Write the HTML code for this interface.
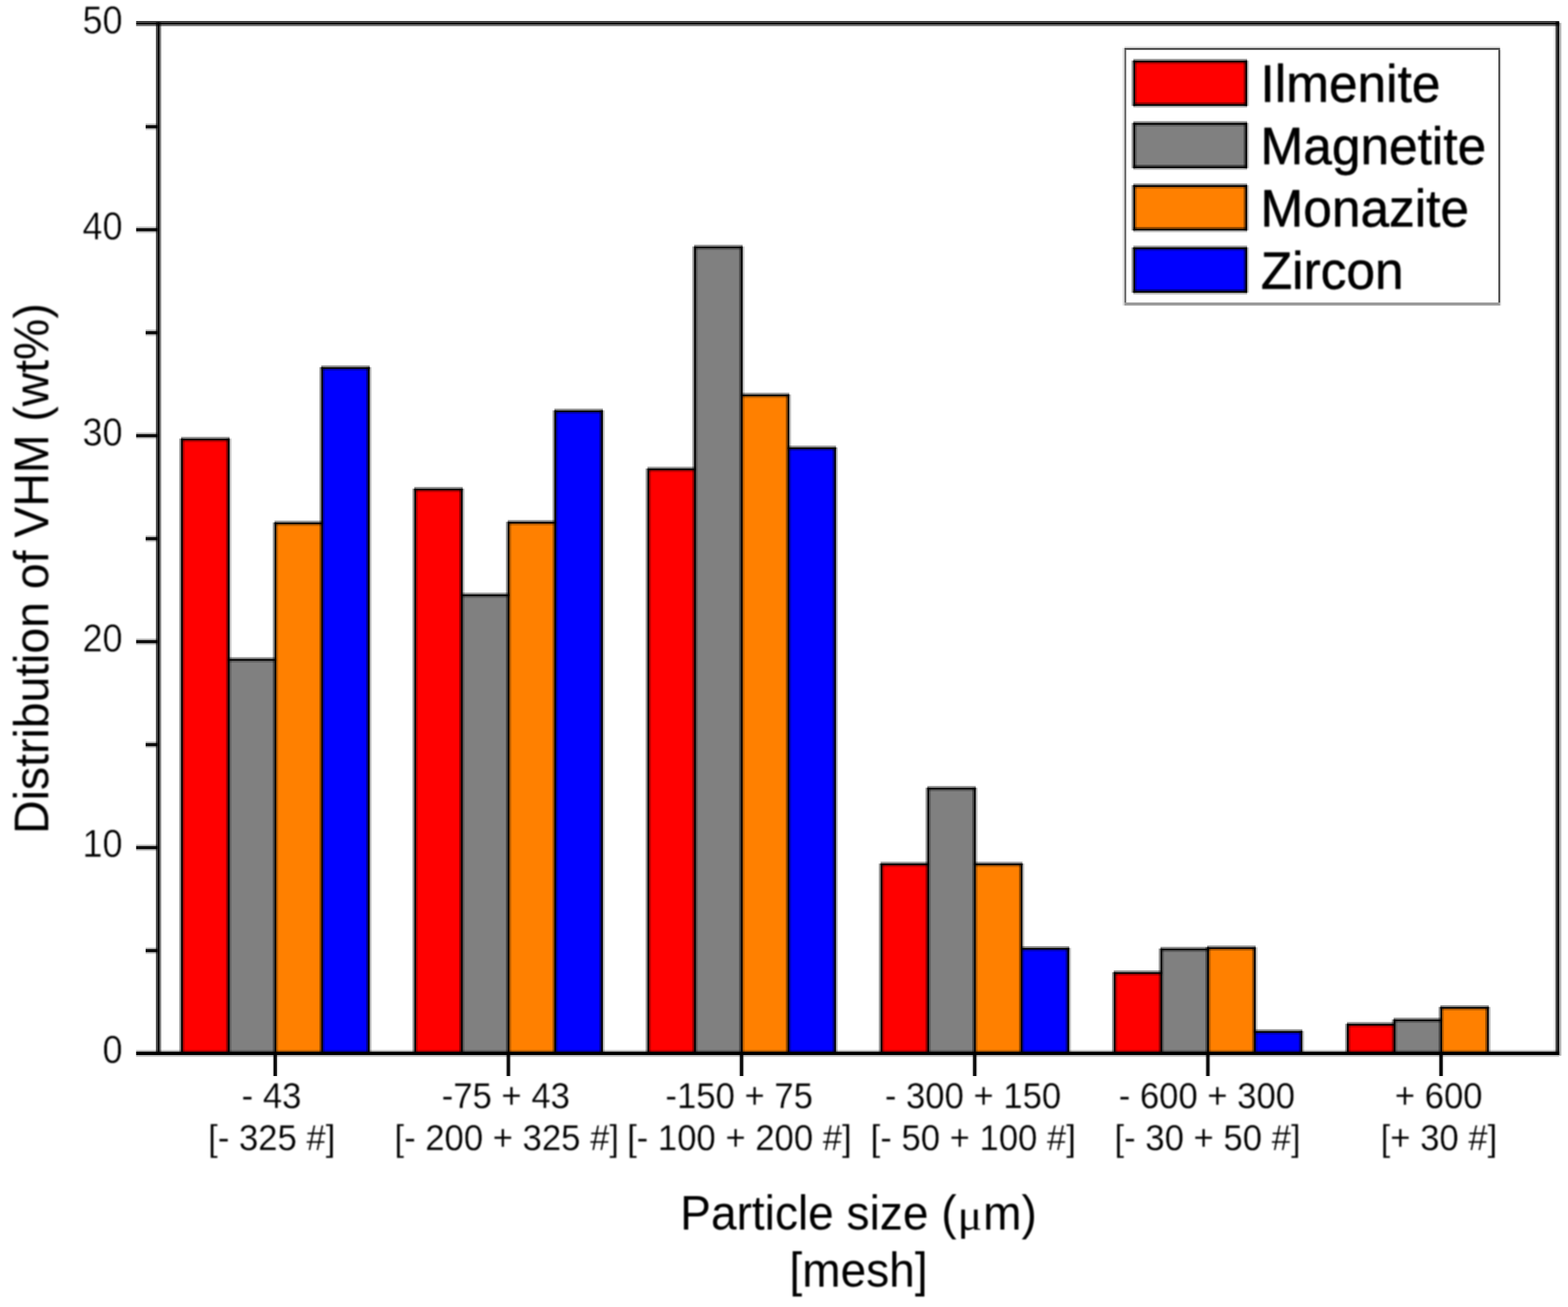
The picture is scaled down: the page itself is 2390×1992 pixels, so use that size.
<!DOCTYPE html>
<html lang="en"><head><meta charset="utf-8"><title>Distribution of VHM by particle size</title>
<style>
html,body{margin:0;padding:0;background:#fff;}
body{width:2390px;height:1992px;overflow:hidden;}
svg{display:block;}
.shp{filter:blur(0.45px);}
.txt{filter:blur(0.8px);}
text{font-family:"Liberation Sans",sans-serif;fill:#000;font-kerning:none;}
.tk{font-size:56.0px;stroke:#fff;stroke-width:0.3px;stroke-linejoin:round;}
.yt{font-size:58.5px;stroke:#fff;stroke-width:0.6px;stroke-linejoin:round;}
.ti{font-size:73.5px;}
.lg{font-size:80.5px;stroke:#000;stroke-width:0.8px;stroke-linejoin:round;}
.s1{fill:#000;fill-opacity:.42}.s2{fill:#000;fill-opacity:.25}.s3{fill:#000;fill-opacity:.2}.c1{fill:#000}.c2{fill:#000;fill-opacity:.95}
</style></head><body>
<svg width="2390" height="1992" viewBox="0 0 2390 1992">
<rect x="-10" y="-10" width="2410" height="2012" fill="#fff"/>
<g class="shp">
<rect x="277.40" y="669.80" width="71.20" height="935.60" fill="#ff0000"/>
<rect x="348.60" y="1005.60" width="71.20" height="599.80" fill="#808080"/>
<rect x="419.80" y="797.60" width="71.20" height="807.80" fill="#ff8000"/>
<rect x="491.00" y="560.90" width="71.20" height="1044.50" fill="#0000ff"/>
<rect x="632.80" y="746.10" width="71.20" height="859.30" fill="#ff0000"/>
<rect x="704.00" y="907.30" width="71.20" height="698.10" fill="#808080"/>
<rect x="775.20" y="796.60" width="71.20" height="808.80" fill="#ff8000"/>
<rect x="846.40" y="626.80" width="71.20" height="978.60" fill="#0000ff"/>
<rect x="988.20" y="715.40" width="71.20" height="890.00" fill="#ff0000"/>
<rect x="1059.40" y="377.00" width="71.20" height="1228.40" fill="#808080"/>
<rect x="1130.60" y="602.60" width="71.20" height="1002.80" fill="#ff8000"/>
<rect x="1201.80" y="683.20" width="71.20" height="922.20" fill="#0000ff"/>
<rect x="1343.60" y="1317.40" width="71.20" height="288.00" fill="#ff0000"/>
<rect x="1414.80" y="1201.90" width="71.20" height="403.50" fill="#808080"/>
<rect x="1486.00" y="1317.40" width="71.20" height="288.00" fill="#ff8000"/>
<rect x="1557.20" y="1446.00" width="71.20" height="159.40" fill="#0000ff"/>
<rect x="1699.00" y="1483.00" width="71.20" height="122.40" fill="#ff0000"/>
<rect x="1770.20" y="1447.00" width="71.20" height="158.40" fill="#808080"/>
<rect x="1841.40" y="1445.00" width="71.20" height="160.40" fill="#ff8000"/>
<rect x="1912.60" y="1572.70" width="71.20" height="32.70" fill="#0000ff"/>
<rect x="2054.40" y="1561.70" width="71.20" height="43.70" fill="#ff0000"/>
<rect x="2125.60" y="1555.00" width="71.20" height="50.40" fill="#808080"/>
<rect x="2196.80" y="1536.00" width="71.20" height="69.40" fill="#ff8000"/>
<rect x="1728.80" y="93.75" width="170.80" height="66.40" fill="#ff0000"/>
<rect x="1728.80" y="188.65" width="170.80" height="66.40" fill="#808080"/>
<rect x="1728.80" y="283.55" width="170.80" height="66.40" fill="#ff8000"/>
<rect x="1728.80" y="378.45" width="170.80" height="66.40" fill="#0000ff"/>
<g>
<rect x="273.35" y="668.45" width="2.70" height="936.95" class="s1"/>
<rect x="278.75" y="668.45" width="2.70" height="936.95" class="s2"/>
<rect x="344.55" y="668.45" width="2.70" height="936.95" class="s1"/>
<rect x="349.95" y="668.45" width="2.70" height="936.95" class="s2"/>
<rect x="415.75" y="796.25" width="2.70" height="809.15" class="s1"/>
<rect x="421.15" y="796.25" width="2.70" height="809.15" class="s2"/>
<rect x="486.95" y="559.55" width="2.70" height="1045.85" class="s1"/>
<rect x="492.35" y="559.55" width="2.70" height="1045.85" class="s2"/>
<rect x="558.15" y="559.55" width="2.70" height="1045.85" class="s1"/>
<rect x="563.55" y="559.55" width="2.70" height="1045.85" class="s2"/>
<rect x="276.05" y="665.75" width="73.90" height="2.70" class="s1"/>
<rect x="276.05" y="671.15" width="73.90" height="2.70" class="s2"/>
<rect x="347.25" y="1001.55" width="73.90" height="2.70" class="s1"/>
<rect x="347.25" y="1006.95" width="73.90" height="2.70" class="s2"/>
<rect x="418.45" y="793.55" width="73.90" height="2.70" class="s1"/>
<rect x="418.45" y="798.95" width="73.90" height="2.70" class="s2"/>
<rect x="489.65" y="556.85" width="73.90" height="2.70" class="s1"/>
<rect x="489.65" y="562.25" width="73.90" height="2.70" class="s2"/>
<rect x="628.75" y="744.75" width="2.70" height="860.65" class="s1"/>
<rect x="634.15" y="744.75" width="2.70" height="860.65" class="s2"/>
<rect x="699.95" y="744.75" width="2.70" height="860.65" class="s1"/>
<rect x="705.35" y="744.75" width="2.70" height="860.65" class="s2"/>
<rect x="771.15" y="795.25" width="2.70" height="810.15" class="s1"/>
<rect x="776.55" y="795.25" width="2.70" height="810.15" class="s2"/>
<rect x="842.35" y="625.45" width="2.70" height="979.95" class="s1"/>
<rect x="847.75" y="625.45" width="2.70" height="979.95" class="s2"/>
<rect x="913.55" y="625.45" width="2.70" height="979.95" class="s1"/>
<rect x="918.95" y="625.45" width="2.70" height="979.95" class="s2"/>
<rect x="631.45" y="742.05" width="73.90" height="2.70" class="s1"/>
<rect x="631.45" y="747.45" width="73.90" height="2.70" class="s2"/>
<rect x="702.65" y="903.25" width="73.90" height="2.70" class="s1"/>
<rect x="702.65" y="908.65" width="73.90" height="2.70" class="s2"/>
<rect x="773.85" y="792.55" width="73.90" height="2.70" class="s1"/>
<rect x="773.85" y="797.95" width="73.90" height="2.70" class="s2"/>
<rect x="845.05" y="622.75" width="73.90" height="2.70" class="s1"/>
<rect x="845.05" y="628.15" width="73.90" height="2.70" class="s2"/>
<rect x="984.15" y="714.05" width="2.70" height="891.35" class="s1"/>
<rect x="989.55" y="714.05" width="2.70" height="891.35" class="s2"/>
<rect x="1055.35" y="375.65" width="2.70" height="1229.75" class="s1"/>
<rect x="1060.75" y="375.65" width="2.70" height="1229.75" class="s2"/>
<rect x="1126.55" y="375.65" width="2.70" height="1229.75" class="s1"/>
<rect x="1131.95" y="375.65" width="2.70" height="1229.75" class="s2"/>
<rect x="1197.75" y="601.25" width="2.70" height="1004.15" class="s1"/>
<rect x="1203.15" y="601.25" width="2.70" height="1004.15" class="s2"/>
<rect x="1268.95" y="681.85" width="2.70" height="923.55" class="s1"/>
<rect x="1274.35" y="681.85" width="2.70" height="923.55" class="s2"/>
<rect x="986.85" y="711.35" width="73.90" height="2.70" class="s1"/>
<rect x="986.85" y="716.75" width="73.90" height="2.70" class="s2"/>
<rect x="1058.05" y="372.95" width="73.90" height="2.70" class="s1"/>
<rect x="1058.05" y="378.35" width="73.90" height="2.70" class="s2"/>
<rect x="1129.25" y="598.55" width="73.90" height="2.70" class="s1"/>
<rect x="1129.25" y="603.95" width="73.90" height="2.70" class="s2"/>
<rect x="1200.45" y="679.15" width="73.90" height="2.70" class="s1"/>
<rect x="1200.45" y="684.55" width="73.90" height="2.70" class="s2"/>
<rect x="1339.55" y="1316.05" width="2.70" height="289.35" class="s1"/>
<rect x="1344.95" y="1316.05" width="2.70" height="289.35" class="s2"/>
<rect x="1410.75" y="1200.55" width="2.70" height="404.85" class="s1"/>
<rect x="1416.15" y="1200.55" width="2.70" height="404.85" class="s2"/>
<rect x="1481.95" y="1200.55" width="2.70" height="404.85" class="s1"/>
<rect x="1487.35" y="1200.55" width="2.70" height="404.85" class="s2"/>
<rect x="1553.15" y="1316.05" width="2.70" height="289.35" class="s1"/>
<rect x="1558.55" y="1316.05" width="2.70" height="289.35" class="s2"/>
<rect x="1624.35" y="1444.65" width="2.70" height="160.75" class="s1"/>
<rect x="1629.75" y="1444.65" width="2.70" height="160.75" class="s2"/>
<rect x="1342.25" y="1313.35" width="73.90" height="2.70" class="s1"/>
<rect x="1342.25" y="1318.75" width="73.90" height="2.70" class="s2"/>
<rect x="1413.45" y="1197.85" width="73.90" height="2.70" class="s1"/>
<rect x="1413.45" y="1203.25" width="73.90" height="2.70" class="s2"/>
<rect x="1484.65" y="1313.35" width="73.90" height="2.70" class="s1"/>
<rect x="1484.65" y="1318.75" width="73.90" height="2.70" class="s2"/>
<rect x="1555.85" y="1441.95" width="73.90" height="2.70" class="s1"/>
<rect x="1555.85" y="1447.35" width="73.90" height="2.70" class="s2"/>
<rect x="1694.95" y="1481.65" width="2.70" height="123.75" class="s1"/>
<rect x="1700.35" y="1481.65" width="2.70" height="123.75" class="s2"/>
<rect x="1766.15" y="1445.65" width="2.70" height="159.75" class="s1"/>
<rect x="1771.55" y="1445.65" width="2.70" height="159.75" class="s2"/>
<rect x="1837.35" y="1443.65" width="2.70" height="161.75" class="s1"/>
<rect x="1842.75" y="1443.65" width="2.70" height="161.75" class="s2"/>
<rect x="1908.55" y="1443.65" width="2.70" height="161.75" class="s1"/>
<rect x="1913.95" y="1443.65" width="2.70" height="161.75" class="s2"/>
<rect x="1979.75" y="1571.35" width="2.70" height="34.05" class="s1"/>
<rect x="1985.15" y="1571.35" width="2.70" height="34.05" class="s2"/>
<rect x="1697.65" y="1478.95" width="73.90" height="2.70" class="s1"/>
<rect x="1697.65" y="1484.35" width="73.90" height="2.70" class="s2"/>
<rect x="1768.85" y="1442.95" width="73.90" height="2.70" class="s1"/>
<rect x="1768.85" y="1448.35" width="73.90" height="2.70" class="s2"/>
<rect x="1840.05" y="1440.95" width="73.90" height="2.70" class="s1"/>
<rect x="1840.05" y="1446.35" width="73.90" height="2.70" class="s2"/>
<rect x="1911.25" y="1568.65" width="73.90" height="2.70" class="s1"/>
<rect x="1911.25" y="1574.05" width="73.90" height="2.70" class="s2"/>
<rect x="2050.35" y="1560.35" width="2.70" height="45.05" class="s1"/>
<rect x="2055.75" y="1560.35" width="2.70" height="45.05" class="s2"/>
<rect x="2121.55" y="1553.65" width="2.70" height="51.75" class="s1"/>
<rect x="2126.95" y="1553.65" width="2.70" height="51.75" class="s2"/>
<rect x="2192.75" y="1534.65" width="2.70" height="70.75" class="s1"/>
<rect x="2198.15" y="1534.65" width="2.70" height="70.75" class="s2"/>
<rect x="2263.95" y="1534.65" width="2.70" height="70.75" class="s1"/>
<rect x="2269.35" y="1534.65" width="2.70" height="70.75" class="s2"/>
<rect x="2053.05" y="1557.65" width="73.90" height="2.70" class="s1"/>
<rect x="2053.05" y="1563.05" width="73.90" height="2.70" class="s2"/>
<rect x="2124.25" y="1550.95" width="73.90" height="2.70" class="s1"/>
<rect x="2124.25" y="1556.35" width="73.90" height="2.70" class="s2"/>
<rect x="2195.45" y="1531.95" width="73.90" height="2.70" class="s1"/>
<rect x="2195.45" y="1537.35" width="73.90" height="2.70" class="s2"/>
<rect x="1724.75" y="92.40" width="2.70" height="69.10" class="s1"/>
<rect x="1730.15" y="92.40" width="2.70" height="69.10" class="s2"/>
<rect x="1895.55" y="92.40" width="2.70" height="69.10" class="s1"/>
<rect x="1900.95" y="92.40" width="2.70" height="69.10" class="s2"/>
<rect x="1727.45" y="89.70" width="173.50" height="2.70" class="s1"/>
<rect x="1727.45" y="95.10" width="173.50" height="2.70" class="s2"/>
<rect x="1727.45" y="156.10" width="173.50" height="2.70" class="s1"/>
<rect x="1727.45" y="161.50" width="173.50" height="2.70" class="s2"/>
<rect x="1724.75" y="187.30" width="2.70" height="69.10" class="s1"/>
<rect x="1730.15" y="187.30" width="2.70" height="69.10" class="s2"/>
<rect x="1895.55" y="187.30" width="2.70" height="69.10" class="s1"/>
<rect x="1900.95" y="187.30" width="2.70" height="69.10" class="s2"/>
<rect x="1727.45" y="184.60" width="173.50" height="2.70" class="s1"/>
<rect x="1727.45" y="190.00" width="173.50" height="2.70" class="s2"/>
<rect x="1727.45" y="251.00" width="173.50" height="2.70" class="s1"/>
<rect x="1727.45" y="256.40" width="173.50" height="2.70" class="s2"/>
<rect x="1724.75" y="282.20" width="2.70" height="69.10" class="s1"/>
<rect x="1730.15" y="282.20" width="2.70" height="69.10" class="s2"/>
<rect x="1895.55" y="282.20" width="2.70" height="69.10" class="s1"/>
<rect x="1900.95" y="282.20" width="2.70" height="69.10" class="s2"/>
<rect x="1727.45" y="279.50" width="173.50" height="2.70" class="s1"/>
<rect x="1727.45" y="284.90" width="173.50" height="2.70" class="s2"/>
<rect x="1727.45" y="345.90" width="173.50" height="2.70" class="s1"/>
<rect x="1727.45" y="351.30" width="173.50" height="2.70" class="s2"/>
<rect x="1724.75" y="377.10" width="2.70" height="69.10" class="s1"/>
<rect x="1730.15" y="377.10" width="2.70" height="69.10" class="s2"/>
<rect x="1895.55" y="377.10" width="2.70" height="69.10" class="s1"/>
<rect x="1900.95" y="377.10" width="2.70" height="69.10" class="s2"/>
<rect x="1727.45" y="374.40" width="173.50" height="2.70" class="s1"/>
<rect x="1727.45" y="379.80" width="173.50" height="2.70" class="s2"/>
<rect x="1727.45" y="440.80" width="173.50" height="2.70" class="s1"/>
<rect x="1727.45" y="446.20" width="173.50" height="2.70" class="s2"/>
</g>
<g>
<rect x="276.05" y="668.45" width="2.70" height="936.95" class="c1"/>
<rect x="347.25" y="668.45" width="2.70" height="936.95" class="c1"/>
<rect x="418.45" y="796.25" width="2.70" height="809.15" class="c1"/>
<rect x="489.65" y="559.55" width="2.70" height="1045.85" class="c1"/>
<rect x="560.85" y="559.55" width="2.70" height="1045.85" class="c1"/>
<rect x="276.05" y="668.45" width="73.90" height="2.70" class="c1"/>
<rect x="347.25" y="1004.25" width="73.90" height="2.70" class="c1"/>
<rect x="418.45" y="796.25" width="73.90" height="2.70" class="c1"/>
<rect x="489.65" y="559.55" width="73.90" height="2.70" class="c1"/>
<rect x="631.45" y="744.75" width="2.70" height="860.65" class="c1"/>
<rect x="702.65" y="744.75" width="2.70" height="860.65" class="c1"/>
<rect x="773.85" y="795.25" width="2.70" height="810.15" class="c1"/>
<rect x="845.05" y="625.45" width="2.70" height="979.95" class="c1"/>
<rect x="916.25" y="625.45" width="2.70" height="979.95" class="c1"/>
<rect x="631.45" y="744.75" width="73.90" height="2.70" class="c1"/>
<rect x="702.65" y="905.95" width="73.90" height="2.70" class="c1"/>
<rect x="773.85" y="795.25" width="73.90" height="2.70" class="c1"/>
<rect x="845.05" y="625.45" width="73.90" height="2.70" class="c1"/>
<rect x="986.85" y="714.05" width="2.70" height="891.35" class="c1"/>
<rect x="1058.05" y="375.65" width="2.70" height="1229.75" class="c1"/>
<rect x="1129.25" y="375.65" width="2.70" height="1229.75" class="c1"/>
<rect x="1200.45" y="601.25" width="2.70" height="1004.15" class="c1"/>
<rect x="1271.65" y="681.85" width="2.70" height="923.55" class="c1"/>
<rect x="986.85" y="714.05" width="73.90" height="2.70" class="c1"/>
<rect x="1058.05" y="375.65" width="73.90" height="2.70" class="c1"/>
<rect x="1129.25" y="601.25" width="73.90" height="2.70" class="c1"/>
<rect x="1200.45" y="681.85" width="73.90" height="2.70" class="c1"/>
<rect x="1342.25" y="1316.05" width="2.70" height="289.35" class="c1"/>
<rect x="1413.45" y="1200.55" width="2.70" height="404.85" class="c1"/>
<rect x="1484.65" y="1200.55" width="2.70" height="404.85" class="c1"/>
<rect x="1555.85" y="1316.05" width="2.70" height="289.35" class="c1"/>
<rect x="1627.05" y="1444.65" width="2.70" height="160.75" class="c1"/>
<rect x="1342.25" y="1316.05" width="73.90" height="2.70" class="c1"/>
<rect x="1413.45" y="1200.55" width="73.90" height="2.70" class="c1"/>
<rect x="1484.65" y="1316.05" width="73.90" height="2.70" class="c1"/>
<rect x="1555.85" y="1444.65" width="73.90" height="2.70" class="c1"/>
<rect x="1697.65" y="1481.65" width="2.70" height="123.75" class="c1"/>
<rect x="1768.85" y="1445.65" width="2.70" height="159.75" class="c1"/>
<rect x="1840.05" y="1443.65" width="2.70" height="161.75" class="c1"/>
<rect x="1911.25" y="1443.65" width="2.70" height="161.75" class="c1"/>
<rect x="1982.45" y="1571.35" width="2.70" height="34.05" class="c1"/>
<rect x="1697.65" y="1481.65" width="73.90" height="2.70" class="c1"/>
<rect x="1768.85" y="1445.65" width="73.90" height="2.70" class="c1"/>
<rect x="1840.05" y="1443.65" width="73.90" height="2.70" class="c1"/>
<rect x="1911.25" y="1571.35" width="73.90" height="2.70" class="c1"/>
<rect x="2053.05" y="1560.35" width="2.70" height="45.05" class="c1"/>
<rect x="2124.25" y="1553.65" width="2.70" height="51.75" class="c1"/>
<rect x="2195.45" y="1534.65" width="2.70" height="70.75" class="c1"/>
<rect x="2266.65" y="1534.65" width="2.70" height="70.75" class="c1"/>
<rect x="2053.05" y="1560.35" width="73.90" height="2.70" class="c1"/>
<rect x="2124.25" y="1553.65" width="73.90" height="2.70" class="c1"/>
<rect x="2195.45" y="1534.65" width="73.90" height="2.70" class="c1"/>
<rect x="1727.45" y="92.40" width="2.70" height="69.10" class="c1"/>
<rect x="1898.25" y="92.40" width="2.70" height="69.10" class="c1"/>
<rect x="1727.45" y="92.40" width="173.50" height="2.70" class="c1"/>
<rect x="1727.45" y="158.80" width="173.50" height="2.70" class="c1"/>
<rect x="1727.45" y="187.30" width="2.70" height="69.10" class="c1"/>
<rect x="1898.25" y="187.30" width="2.70" height="69.10" class="c1"/>
<rect x="1727.45" y="187.30" width="173.50" height="2.70" class="c1"/>
<rect x="1727.45" y="253.70" width="173.50" height="2.70" class="c1"/>
<rect x="1727.45" y="282.20" width="2.70" height="69.10" class="c1"/>
<rect x="1898.25" y="282.20" width="2.70" height="69.10" class="c1"/>
<rect x="1727.45" y="282.20" width="173.50" height="2.70" class="c1"/>
<rect x="1727.45" y="348.60" width="173.50" height="2.70" class="c1"/>
<rect x="1727.45" y="377.10" width="2.70" height="69.10" class="c1"/>
<rect x="1898.25" y="377.10" width="2.70" height="69.10" class="c1"/>
<rect x="1727.45" y="377.10" width="173.50" height="2.70" class="c1"/>
<rect x="1727.45" y="443.50" width="173.50" height="2.70" class="c1"/>
</g>
<g>
<rect x="207.50" y="32.00" width="2169.00" height="2.67" fill="#000" fill-opacity="0.78"/>
<rect x="207.50" y="34.67" width="2169.00" height="2.66" fill="#000" fill-opacity="1"/>
<rect x="207.50" y="37.33" width="2169.00" height="2.67" fill="#000" fill-opacity="0.52"/>
<rect x="207.50" y="1600.10" width="2169.00" height="2.60" fill="#000" fill-opacity="0.2"/>
<rect x="207.50" y="1602.70" width="2169.00" height="5.30" fill="#000" fill-opacity="1"/>
<rect x="207.50" y="1608.00" width="2169.00" height="2.90" fill="#000" fill-opacity="0.22"/>
<rect x="237.70" y="34.00" width="2.70" height="1572.00" fill="#000" fill-opacity="0.74"/>
<rect x="240.40" y="34.00" width="2.60" height="1572.00" fill="#000" fill-opacity="1"/>
<rect x="243.00" y="34.00" width="2.70" height="1572.00" fill="#000" fill-opacity="0.52"/>
<rect x="2368.40" y="37.00" width="2.70" height="1566.00" fill="#000" fill-opacity="0.1"/>
<rect x="2371.10" y="33.00" width="2.70" height="1575.00" fill="#000" fill-opacity="0.75"/>
<rect x="2373.80" y="33.00" width="2.70" height="1575.00" fill="#000" fill-opacity="1"/>
<rect x="2376.50" y="35.00" width="3.30" height="1574.00" fill="#000" fill-opacity="0.3"/>
<rect x="222.00" y="1443.64" width="18.40" height="2.70" class="s3"/>
<rect x="222.00" y="1446.34" width="18.40" height="5.00" class="c2"/>
<rect x="222.00" y="1451.34" width="18.40" height="2.70" class="s3"/>
<rect x="207.50" y="1286.68" width="32.90" height="2.70" class="s3"/>
<rect x="207.50" y="1289.38" width="32.90" height="5.00" class="c2"/>
<rect x="207.50" y="1294.38" width="32.90" height="2.70" class="s3"/>
<rect x="222.00" y="1129.72" width="18.40" height="2.70" class="s3"/>
<rect x="222.00" y="1132.42" width="18.40" height="5.00" class="c2"/>
<rect x="222.00" y="1137.42" width="18.40" height="2.70" class="s3"/>
<rect x="207.50" y="972.76" width="32.90" height="2.70" class="s3"/>
<rect x="207.50" y="975.46" width="32.90" height="5.00" class="c2"/>
<rect x="207.50" y="980.46" width="32.90" height="2.70" class="s3"/>
<rect x="222.00" y="815.80" width="18.40" height="2.70" class="s3"/>
<rect x="222.00" y="818.50" width="18.40" height="5.00" class="c2"/>
<rect x="222.00" y="823.50" width="18.40" height="2.70" class="s3"/>
<rect x="207.50" y="658.84" width="32.90" height="2.70" class="s3"/>
<rect x="207.50" y="661.54" width="32.90" height="5.00" class="c2"/>
<rect x="207.50" y="666.54" width="32.90" height="2.70" class="s3"/>
<rect x="222.00" y="501.88" width="18.40" height="2.70" class="s3"/>
<rect x="222.00" y="504.58" width="18.40" height="5.00" class="c2"/>
<rect x="222.00" y="509.58" width="18.40" height="2.70" class="s3"/>
<rect x="207.50" y="344.92" width="32.90" height="2.70" class="s3"/>
<rect x="207.50" y="347.62" width="32.90" height="5.00" class="c2"/>
<rect x="207.50" y="352.62" width="32.90" height="2.70" class="s3"/>
<rect x="222.00" y="187.96" width="18.40" height="2.70" class="s3"/>
<rect x="222.00" y="190.66" width="18.40" height="5.00" class="c2"/>
<rect x="222.00" y="195.66" width="18.40" height="2.70" class="s3"/>
<rect x="415.40" y="1608.00" width="1.60" height="32.00" class="s3"/>
<rect x="417.00" y="1608.00" width="5.00" height="32.00" class="c2"/>
<rect x="422.00" y="1608.00" width="1.60" height="32.00" class="s3"/>
<rect x="770.80" y="1608.00" width="1.60" height="32.00" class="s3"/>
<rect x="772.40" y="1608.00" width="5.00" height="32.00" class="c2"/>
<rect x="777.40" y="1608.00" width="1.60" height="32.00" class="s3"/>
<rect x="1126.20" y="1608.00" width="1.60" height="32.00" class="s3"/>
<rect x="1127.80" y="1608.00" width="5.00" height="32.00" class="c2"/>
<rect x="1132.80" y="1608.00" width="1.60" height="32.00" class="s3"/>
<rect x="1481.60" y="1608.00" width="1.60" height="32.00" class="s3"/>
<rect x="1483.20" y="1608.00" width="5.00" height="32.00" class="c2"/>
<rect x="1488.20" y="1608.00" width="1.60" height="32.00" class="s3"/>
<rect x="1837.00" y="1608.00" width="1.60" height="32.00" class="s3"/>
<rect x="1838.60" y="1608.00" width="5.00" height="32.00" class="c2"/>
<rect x="1843.60" y="1608.00" width="1.60" height="32.00" class="s3"/>
<rect x="2192.40" y="1608.00" width="1.60" height="32.00" class="s3"/>
<rect x="2194.00" y="1608.00" width="5.00" height="32.00" class="c2"/>
<rect x="2199.00" y="1608.00" width="1.60" height="32.00" class="s3"/>
</g>
<rect x="1714.00" y="70.30" width="572.50" height="2.70" fill="#000" fill-opacity="0.1"/>
<rect x="1714.00" y="73.00" width="572.50" height="3.10" fill="#000" fill-opacity="0.68"/>
<rect x="1711.30" y="73.00" width="2.70" height="392.70" fill="#000" fill-opacity="0.14"/>
<rect x="1714.00" y="76.10" width="2.60" height="384.90" fill="#000" fill-opacity="0.62"/>
<rect x="2283.90" y="76.10" width="2.60" height="384.90" fill="#000" fill-opacity="0.75"/>
<rect x="2286.50" y="76.10" width="1.90" height="389.60" fill="#000" fill-opacity="0.1"/>
<rect x="1714.00" y="461.00" width="572.50" height="4.70" fill="#000" fill-opacity="0.4"/>
</g>
<g class="txt">
<text class="yt" transform="translate(156.33 1620.40) scale(0.941 1)">0</text>
<text class="yt" transform="translate(125.72 1306.48) scale(0.941 1)">10</text>
<text class="yt" transform="translate(125.72 992.56) scale(0.941 1)">20</text>
<text class="yt" transform="translate(125.72 678.64) scale(0.941 1)">30</text>
<text class="yt" transform="translate(125.72 364.72) scale(0.941 1)">40</text>
<text class="yt" transform="translate(125.72 50.80) scale(0.941 1)">50</text>
<text class="tk" transform="translate(368.37 1688.80) scale(0.9435 1)">- 43</text>
<text class="tk" transform="translate(673.31 1688.80) scale(0.9435 1)">-75 + 43</text>
<text class="tk" transform="translate(1014.37 1688.80) scale(0.9435 1)">-150 + 75</text>
<text class="tk" transform="translate(1348.66 1688.80) scale(0.9435 1)">- 300 + 150</text>
<text class="tk" transform="translate(1705.16 1688.80) scale(0.9435 1)">- 600 + 300</text>
<text class="tk" transform="translate(2126.00 1688.80) scale(0.9435 1)">+ 600</text>
<text class="tk" transform="translate(317.27 1752.60) scale(0.9435 1)">[- 325 #]</text>
<text class="tk" transform="translate(601.29 1752.60) scale(0.9435 1)">[- 200 + 325 #]</text>
<text class="tk" transform="translate(955.89 1752.60) scale(0.9435 1)">[- 100 + 200 #]</text>
<text class="tk" transform="translate(1327.08 1752.60) scale(0.9435 1)">[- 50 + 100 #]</text>
<text class="tk" transform="translate(1698.87 1752.60) scale(0.9435 1)">[- 30 + 50 #]</text>
<text class="tk" transform="translate(2104.44 1752.60) scale(0.9435 1)">[+ 30 #]</text>
<text class="ti" transform="translate(1036.82 1874.00) scale(0.955 1)">Particle size (<tspan dx="1.47" font-family="'Liberation Serif',serif" font-size="65.5" textLength="39.41" lengthAdjust="spacingAndGlyphs">μ</tspan><tspan dx="1.47">m)</tspan></text>
<text class="ti" transform="translate(1203.28 1960.50) scale(0.955 1)">[mesh]</text>
<text class="ti" transform="translate(73.5 1270.90) rotate(-90) scale(0.9615 1)">Distribution of VHM (wt%)</text>
<text class="lg" transform="translate(1921.27 155.30) scale(0.973 1)">Ilmenite</text>
<text class="lg" transform="translate(1921.37 250.20) scale(0.973 1)">Magnetite</text>
<text class="lg" transform="translate(1921.37 345.10) scale(0.973 1)">Monazite</text>
<text class="lg" transform="translate(1921.71 440.00) scale(0.973 1)">Zircon</text>
</g>
</svg>
</body></html>
